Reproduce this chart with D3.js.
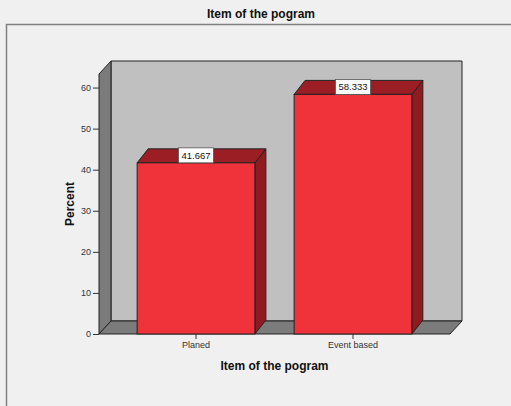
<!DOCTYPE html>
<html>
<head>
<meta charset="utf-8">
<script src="https://cdn.jsdelivr.net/npm/d3@7"></script>
<style>
  html, body { margin: 0; padding: 0; background: #f0f0f0; }
  svg { display: block; font-family: "Liberation Sans", Arial, sans-serif; }
</style>
</head>
<body>
<svg id="chart" width="511" height="406"></svg>
<script>
// Data
const categories = ["Planed", "Event based"];
const percents = [41.667, 58.333];
const yTicks = [0, 10, 20, 30, 40, 50, 60];
const chartTitle = "Item of the pogram";
const xTitle = "Item of the pogram";
const yTitle = "Percent";

const svg = d3.select("#chart");
const W = 511, H = 406;

// Layout of the 3D box (front plane)
const plot = { left: 99, right: 450, top: 74, bottom: 334 };
const box = { dx: 12, dy: -13 };   // depth of walls/floor
const bar = { dx: 11, dy: -14 };   // depth of bars

const colors = {
  bg: "#f0f0f0",
  wall: "#c0c0c0",
  side: "#7b7b7b",
  edge: "#222222",
  barFront: "#f0323b",
  barTop: "#9a1e24",
  barSide: "#8f1b21",
  frame: "#808080"
};

const x = d3.scaleBand()
  .domain(categories)
  .range([plot.left, plot.right])
  .paddingInner(0.25)
  .paddingOuter(0.243);

const y = d3.scaleLinear()
  .domain([0, 63.3])
  .range([plot.bottom, plot.top]);

// Background and outer frame
svg.append("rect").attr("width", W).attr("height", H).attr("fill", colors.bg);
svg.append("path")
  .attr("d", `M6.5,${H} L6.5,24.5 L${W},24.5`)
  .attr("fill", "none")
  .attr("stroke", colors.frame)
  .attr("stroke-width", 1.5);

// Title
svg.append("text")
  .attr("x", 261).attr("y", 18)
  .attr("text-anchor", "middle")
  .attr("font-size", 12).attr("font-weight", "bold")
  .attr("fill", "#111")
  .text(chartTitle);

const pt = (px, py) => px + "," + py;
const y0 = y(0), yTop = y.range()[1];

// Back wall
svg.append("polygon")
  .attr("points", [
    pt(plot.left + box.dx, yTop + box.dy),
    pt(plot.right + box.dx, yTop + box.dy),
    pt(plot.right + box.dx, y0 + box.dy),
    pt(plot.left + box.dx, y0 + box.dy)
  ].join(" "))
  .attr("fill", colors.wall).attr("stroke", colors.edge).attr("stroke-width", 1);

// Left wall
svg.append("polygon")
  .attr("points", [
    pt(plot.left, yTop),
    pt(plot.left + box.dx, yTop + box.dy),
    pt(plot.left + box.dx, y0 + box.dy),
    pt(plot.left, y0)
  ].join(" "))
  .attr("fill", colors.side).attr("stroke", colors.edge).attr("stroke-width", 1);

// Floor
svg.append("polygon")
  .attr("points", [
    pt(plot.left, y0),
    pt(plot.left + box.dx, y0 + box.dy),
    pt(plot.right + box.dx, y0 + box.dy),
    pt(plot.right, y0)
  ].join(" "))
  .attr("fill", colors.side).attr("stroke", colors.edge).attr("stroke-width", 1);

// Y axis
const yAxis = d3.axisLeft(y).tickValues(yTicks).tickSize(6).tickPadding(2).tickFormat(d3.format("d"));
const gy = svg.append("g").attr("transform", `translate(${plot.left},0)`).call(yAxis);
gy.select(".domain").remove();
gy.selectAll(".tick line").attr("stroke", "#333");
gy.selectAll(".tick text").attr("font-size", 9).attr("fill", "#333")
  .attr("font-family", "'Liberation Sans', Arial, sans-serif");

// X axis
const xAxis = d3.axisBottom(x).tickSize(5).tickPadding(3);
const gx = svg.append("g").attr("transform", `translate(0,${y0})`).call(xAxis);
gx.select(".domain").remove();
gx.selectAll(".tick line").attr("stroke", "#333");
gx.selectAll(".tick text").attr("font-size", 9).attr("fill", "#333")
  .attr("font-family", "'Liberation Sans', Arial, sans-serif");

// Bars
const data = categories.map((c, i) => ({ cat: c, val: percents[i] }));
const bars = svg.append("g").selectAll("g").data(data).join("g");

bars.append("polygon") // side face
  .attr("points", d => {
    const x1 = x(d.cat) + x.bandwidth(), yt = y(d.val);
    return [pt(x1, yt), pt(x1 + bar.dx, yt + bar.dy), pt(x1 + bar.dx, y0 + bar.dy), pt(x1, y0)].join(" ");
  })
  .attr("fill", colors.barSide).attr("stroke", colors.edge).attr("stroke-width", 1);

bars.append("polygon") // top face
  .attr("points", d => {
    const x0 = x(d.cat), x1 = x0 + x.bandwidth(), yt = y(d.val);
    return [pt(x0, yt), pt(x0 + bar.dx, yt + bar.dy), pt(x1 + bar.dx, yt + bar.dy), pt(x1, yt)].join(" ");
  })
  .attr("fill", colors.barTop).attr("stroke", colors.edge).attr("stroke-width", 1);

bars.append("rect") // front face
  .attr("x", d => x(d.cat))
  .attr("y", d => y(d.val))
  .attr("width", x.bandwidth())
  .attr("height", d => y0 - y(d.val))
  .attr("fill", colors.barFront).attr("stroke", colors.edge).attr("stroke-width", 1);

// Value labels
const fmt = d3.format(".3f");
bars.each(function(d) {
  const g = d3.select(this);
  const cx = x(d.cat) + x.bandwidth() / 2;
  const yt = y(d.val);
  const t = g.append("text")
    .attr("x", cx).attr("y", yt - 4)
    .attr("text-anchor", "middle")
    .attr("font-size", 9.5).attr("fill", "#111")
    .text(fmt(d.val));
  const bb = t.node().getBBox();
  g.insert("rect", "text")
    .attr("x", cx - (bb.width + 6) / 2)
    .attr("y", yt - 15)
    .attr("width", bb.width + 6)
    .attr("height", 15)
    .attr("fill", "#ffffff")
    .attr("stroke", "#555").attr("stroke-width", 0.8);
});

// Axis titles
svg.append("text")
  .attr("x", 274.5).attr("y", 369.5)
  .attr("text-anchor", "middle")
  .attr("font-size", 12).attr("font-weight", "bold").attr("fill", "#111")
  .text(xTitle);

svg.append("text")
  .attr("transform", "translate(74,204) rotate(-90)")
  .attr("text-anchor", "middle")
  .attr("font-size", 12).attr("font-weight", "bold").attr("fill", "#111")
  .text(yTitle);
</script>
</body>
</html>
